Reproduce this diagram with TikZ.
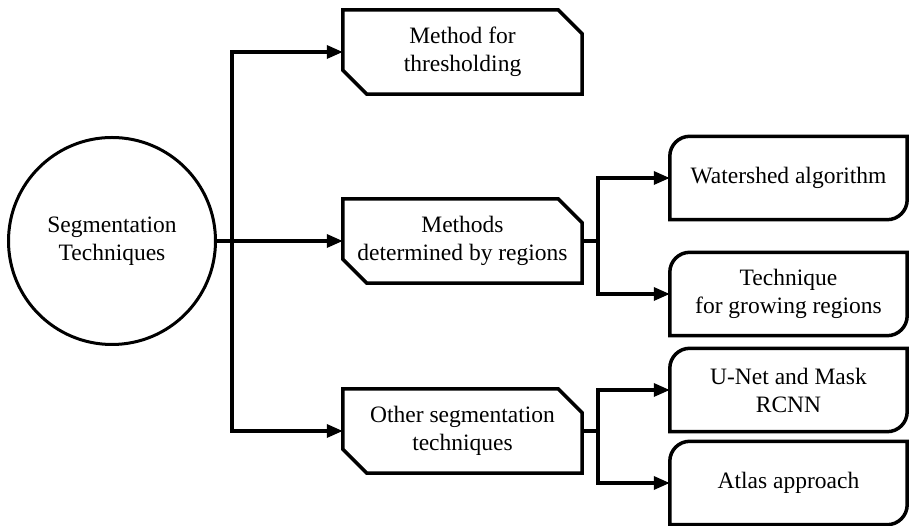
\documentclass[tikz,border=0pt]{standalone}
\usepackage{fontspec}
\setmainfont{Liberation Serif}
\usepackage{tikz}
\usetikzlibrary{arrows.meta}

\tikzset{
    txt/.style={align=center, inner sep=0pt, font=\fontsize{23.5}{28}\selectfont},
    topic/.style={txt, circle, draw, line width=3pt, minimum size=207pt},
    midbox/.style={txt, minimum width=239pt, minimum height=84pt},
    leafbox/.style={txt, minimum width=237pt, minimum height=83pt},
    boxline/.style={line width=3.5pt, line join=miter},
    link/.style={line width=3.3pt, -{Triangle[length=16pt,width=13pt]}}
}

\begin{document}
\begin{tikzpicture}[x=1pt, y=1pt]
        \useasboundingbox (0,0) rectangle (910,526);
        % Root
        \node[topic] (seg) at (112,285) {Segmentation\\Techniques};
        % Main groups
        \node[midbox] (thr) at (462.5,474) {Method for\\thresholding};
        \node[midbox] (reg) at (462.5,285) {Methods\\determined by regions};
        \node[midbox] (oth) at (462.5,95) {Other segmentation\\techniques};
        % Leaves
        \node[leafbox] (water) at (788.5,348) {Watershed algorithm};
        \node[leafbox] (grow) at (788.5,232) {Technique\\for growing regions};
        \node[leafbox] (unet) at (788.5,136) {U-Net and Mask\\RCNN};
        \node[leafbox] (atlas) at (788.5,43) {Atlas approach};
        % Box outlines
        \foreach \n in {thr,reg,oth}
            \draw[boxline] (\n.north west) -- ([xshift=-24pt]\n.north east) -- ([yshift=-24pt]\n.north east)
                -- (\n.south east) -- ([xshift=24pt]\n.south west) -- ([yshift=24pt]\n.south west) -- cycle;
        \foreach \n in {water,grow,unet,atlas}
            \draw[boxline] (\n.north east) -- ([xshift=20pt]\n.north west) arc[start angle=90, end angle=180, radius=20pt]
                -- (\n.south west) -- ([xshift=-20pt]\n.south east) arc[start angle=270, end angle=360, radius=20pt] -- cycle;
        % Branch points
        \coordinate (trunk) at (232,285);
        \coordinate (fork1) at (598,285);
        \coordinate (fork2) at (598,95);
        % Connectors
        \draw[link] (seg.east) -- (reg.west);
        \draw[link] (trunk) |- (thr.west);
        \draw[link] (trunk) |- (oth.west);
        \draw[link] (reg.east) -- (fork1) |- (water.west);
        \draw[link] (fork1) |- (grow.west);
        \draw[link] (oth.east) -- (fork2) |- (unet.west);
        \draw[link] (fork2) |- (atlas.west);
    \end{tikzpicture}
\end{document}
